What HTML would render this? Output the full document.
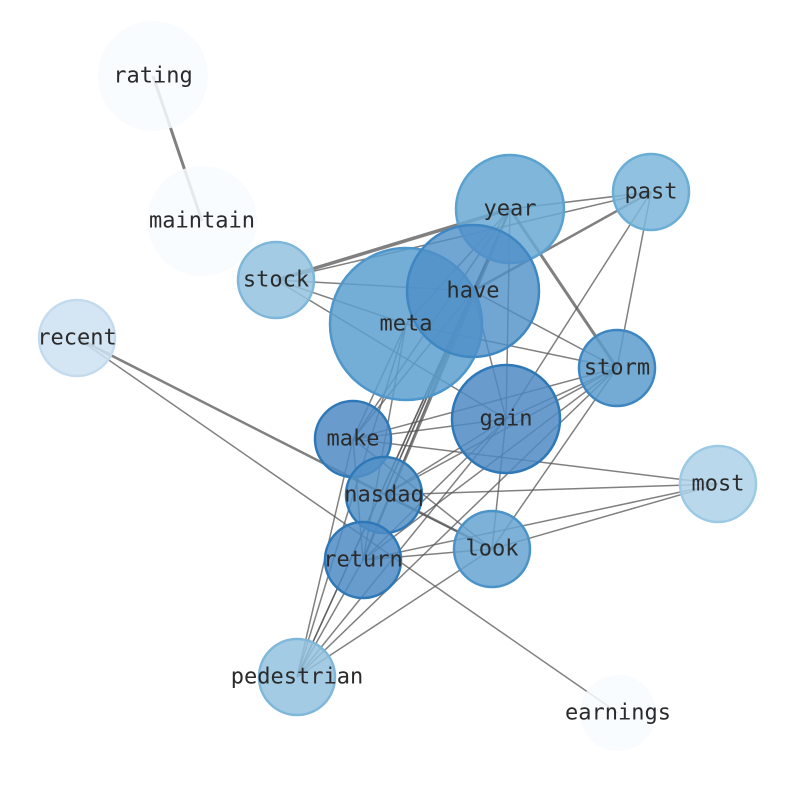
<!DOCTYPE html>
<html><head><meta charset="utf-8"><style>
html,body{margin:0;padding:0;background:#fff;}
svg{display:block;}
text{font-family:"DejaVu Sans Mono","Liberation Mono",monospace;font-size:22px;fill:#2b2b2b;text-anchor:middle;dominant-baseline:central;}
</style></head><body>
<svg width="794" height="790" viewBox="0 0 794 790" xmlns="http://www.w3.org/2000/svg">
<g stroke="#555" stroke-opacity="0.75" stroke-width="1.5" fill="none">
<line x1="153" y1="76" x2="202" y2="221" stroke-width="3"/>
<line x1="276" y1="280" x2="510" y2="209" stroke-width="3.5"/>
<line x1="276" y1="280" x2="651" y2="192"/>
<line x1="276" y1="280" x2="473" y2="291"/>
<line x1="276" y1="280" x2="506" y2="419"/>
<line x1="276" y1="280" x2="406" y2="324"/>
<line x1="510" y1="209" x2="651" y2="192"/>
<line x1="510" y1="209" x2="617" y2="368" stroke-width="3"/>
<line x1="510" y1="209" x2="506" y2="419"/>
<line x1="510" y1="209" x2="473" y2="291"/>
<line x1="510" y1="209" x2="406" y2="324"/>
<line x1="510" y1="209" x2="353" y2="439"/>
<line x1="510" y1="209" x2="384" y2="495"/>
<line x1="510" y1="209" x2="363" y2="560" stroke-width="2.5"/>
<line x1="510" y1="209" x2="297" y2="677"/>
<line x1="651" y1="192" x2="473" y2="291" stroke-width="2.5"/>
<line x1="651" y1="192" x2="506" y2="419"/>
<line x1="651" y1="192" x2="617" y2="368"/>
<line x1="473" y1="291" x2="617" y2="368"/>
<line x1="473" y1="291" x2="353" y2="439"/>
<line x1="473" y1="291" x2="384" y2="495"/>
<line x1="473" y1="291" x2="363" y2="560"/>
<line x1="473" y1="291" x2="297" y2="677"/>
<line x1="473" y1="291" x2="506" y2="419"/>
<line x1="406" y1="324" x2="617" y2="368"/>
<line x1="406" y1="324" x2="353" y2="439"/>
<line x1="406" y1="324" x2="363" y2="560"/>
<line x1="406" y1="324" x2="297" y2="677"/>
<line x1="617" y1="368" x2="353" y2="439"/>
<line x1="617" y1="368" x2="384" y2="495"/>
<line x1="617" y1="368" x2="363" y2="560"/>
<line x1="617" y1="368" x2="506" y2="419"/>
<line x1="617" y1="368" x2="492" y2="549"/>
<line x1="617" y1="368" x2="297" y2="677"/>
<line x1="506" y1="419" x2="353" y2="439"/>
<line x1="506" y1="419" x2="384" y2="495"/>
<line x1="506" y1="419" x2="363" y2="560"/>
<line x1="506" y1="419" x2="492" y2="549"/>
<line x1="506" y1="419" x2="297" y2="677"/>
<line x1="353" y1="439" x2="718" y2="484"/>
<line x1="353" y1="439" x2="492" y2="549"/>
<line x1="353" y1="439" x2="363" y2="560"/>
<line x1="353" y1="439" x2="297" y2="677"/>
<line x1="384" y1="495" x2="718" y2="484"/>
<line x1="384" y1="495" x2="492" y2="549"/>
<line x1="718" y1="484" x2="492" y2="549"/>
<line x1="718" y1="484" x2="363" y2="560"/>
<line x1="492" y1="549" x2="363" y2="560"/>
<line x1="492" y1="549" x2="297" y2="677"/>
<line x1="363" y1="560" x2="297" y2="677"/>
<line x1="77" y1="338" x2="492" y2="549" stroke-width="2.5"/>
<line x1="77" y1="338" x2="618" y2="713"/>
</g>
<g stroke-width="2.5">
<circle cx="153" cy="76" r="55" fill="#f7fbff" fill-opacity="0.85"/>
<circle cx="202" cy="221" r="55" fill="#f7fbff" fill-opacity="0.85"/>
<circle cx="618" cy="713" r="38" fill="#f7fbff" fill-opacity="0.85"/>
<circle cx="77" cy="338" r="38" fill="#cde0f1" stroke="#c4dbef" fill-opacity="0.85"/>
<circle cx="276" cy="280" r="38" fill="#93c3df" stroke="#7fb7db" fill-opacity="0.85"/>
<circle cx="718" cy="484" r="38" fill="#aed1e7" stroke="#9ccae4" fill-opacity="0.85"/>
<circle cx="297" cy="677" r="38" fill="#93c3df" stroke="#7fb7db" fill-opacity="0.85"/>
<circle cx="651" cy="192" r="38" fill="#7db6da" stroke="#6aaed6" fill-opacity="0.85"/>
<circle cx="510" cy="209" r="54" fill="#6aa9d4" stroke="#5ba2d1" fill-opacity="0.85"/>
<circle cx="406" cy="324" r="76" fill="#5c9fcf" stroke="#4f97cb" fill-opacity="0.85"/>
<circle cx="473" cy="291" r="66" fill="#4d8fc7" stroke="#3f87c2" fill-opacity="0.8"/>
<circle cx="617" cy="368" r="38" fill="#5b9ccd" stroke="#3e86c2" fill-opacity="0.85"/>
<circle cx="506" cy="419" r="54" fill="#4f8bc3" stroke="#2f78b8" fill-opacity="0.85"/>
<circle cx="353" cy="439" r="38" fill="#4f8bc3" stroke="#2f78b8" fill-opacity="0.85"/>
<circle cx="384" cy="495" r="38" fill="#5290c6" stroke="#2f78b8" fill-opacity="0.85"/>
<circle cx="492" cy="549" r="38" fill="#66a3d0" stroke="#4a93c9" fill-opacity="0.85"/>
<circle cx="363" cy="560" r="38" fill="#4c8bc4" stroke="#2f78b8" fill-opacity="0.85"/>
</g>
<g>
<text x="153" y="76" fill="#3a3a3a">rating</text>
<text x="202" y="221" fill="#3a3a3a">maintain</text>
<text x="276" y="280">stock</text>
<text x="77" y="338" fill="#3a3a3a">recent</text>
<text x="510" y="209">year</text>
<text x="651" y="192">past</text>
<text x="473" y="291">have</text>
<text x="406" y="324">meta</text>
<text x="617" y="368">storm</text>
<text x="506" y="419">gain</text>
<text x="353" y="439">make</text>
<text x="384" y="495">nasdaq</text>
<text x="718" y="484">most</text>
<text x="492" y="549">look</text>
<text x="363" y="560">return</text>
<text x="297" y="677" fill="#3a3a3a">pedestrian</text>
<text x="618" y="713" fill="#3a3a3a">earnings</text>
</g>
</svg>
</body></html>
